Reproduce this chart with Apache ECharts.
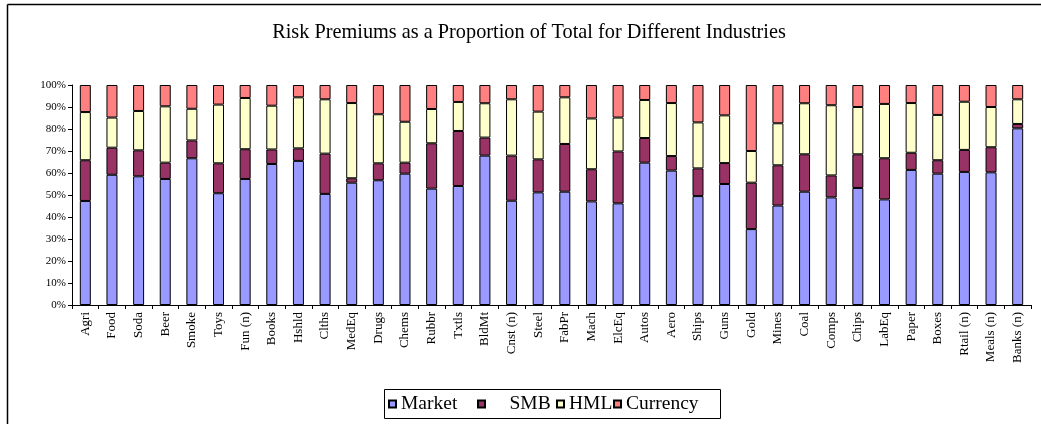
<!DOCTYPE html>
<html>
<head>
<meta charset="utf-8">
<script src="https://cdn.jsdelivr.net/npm/echarts@6/dist/echarts.min.js"></script>
<style>
html,body{margin:0;padding:0;background:#fff;}
#c{width:1041px;height:424px;}
</style>
</head>
<body>
<div id="c"></div>
<script>
const categories = ['Agri','Food','Soda','Beer','Smoke','Toys','Fun (n)','Books','Hshld','Clths','MedEq','Drugs','Chems','Rubbr','Txtls','BldMt','Cnst (n)','Steel','FabPr','Mach','ElcEq','Autos','Aero','Ships','Guns','Gold','Mines','Coal','Comps','Chips','LabEq','Paper','Boxes','Rtail (n)','Meals (n)','Banks (n)'];
const market   = [47.3,59.2,58.5,57.3,66.7,50.8,57.3,64.1,65.5,50.5,55.6,56.7,59.7,52.9,54.1,67.9,47.4,51.2,51.5,47.1,46.2,64.7,61.1,49.5,55.0,34.5,45.2,51.5,48.9,53.2,48.0,61.4,59.7,60.5,60.3,80.3];
const smb      = [18.5,12.3,11.8,7.4,8.1,13.6,13.5,6.6,5.7,18.3,2.0,7.7,5.0,20.6,25.0,8.2,20.5,15.0,21.7,14.6,23.6,11.2,6.6,12.6,9.5,21.1,18.3,17.0,10.0,15.3,18.7,7.8,6.1,10.0,11.4,2.0];
const hml      = [21.9,13.7,17.9,25.6,14.4,26.7,23.3,19.9,23.2,24.7,34.2,22.3,18.6,15.6,13.2,15.6,25.6,21.7,21.2,23.1,15.4,17.3,24.1,20.9,21.7,14.4,19.1,23.2,31.9,21.5,24.7,22.6,20.6,21.9,18.3,11.2];
const currency = [12.3,14.8,11.8,9.7,10.8,8.9,5.9,9.4,5.6,6.5,8.2,13.3,16.7,10.9,7.7,8.3,6.5,12.1,5.6,15.2,14.8,6.8,8.2,17.0,13.8,30.0,17.4,8.3,9.2,10.0,8.6,8.2,13.6,7.6,10.0,6.5];
const seriesNames = ['Market','SMB','HML','Currency'];
const colors = ['#9999FF','#993366','#FFFFCC','#FF8080'];

const font = "'Liberation Serif','Times New Roman',serif";
const chart = echarts.init(document.getElementById('c'), null, {renderer:'canvas'});

const dataSets = [market, smb, hml, currency];
const series = seriesNames.map((n,i)=>({
  name:n, type:'bar', stack:'total', barWidth:11,
  data:dataSets[i],
  itemStyle:{color:colors[i], borderColor:'#000', borderWidth:1},
  emphasis:{disabled:true}
}));

const legendPos = [388, 477, 556, 613];
const legends = seriesNames.map((n,i)=>({
  data:[n], left:legendPos[i], top:394, icon:'rect', itemWidth:7, itemHeight:7,
  padding:0,
  formatter: n==='SMB' ? '    SMB' : '{name}',
  textStyle:{fontFamily:font, fontSize:19.5, color:'#000'},
  selectedMode:false
}));

chart.setOption({
  animation:false,
  backgroundColor:'#fff',
  color:colors,
  title:{
    text:'Risk Premiums as a Proportion of Total for Different Industries',
    left:524, top:18, textAlign:'center',
    textStyle:{fontFamily:font, fontSize:20.3, fontWeight:'normal', color:'#000'}
  },
  legend:legends,
  grid:{left:72, right:10, top:85, bottom:119},
  xAxis:{
    type:'category', data:categories,
    axisLine:{lineStyle:{color:'#000', width:1}},
    axisTick:{show:true, length:4, lineStyle:{color:'#000'}},
    axisLabel:{rotate:90, interval:0, margin:7, fontFamily:font, fontSize:13, color:'#000'}
  },
  yAxis:{
    type:'value', min:0, max:100, interval:10,
    axisLine:{show:true, lineStyle:{color:'#000', width:1}},
    axisTick:{show:true, length:4, lineStyle:{color:'#000'}},
    splitLine:{show:false},
    axisLabel:{formatter:'{value}%', margin:6, fontFamily:font, fontSize:11, color:'#000'}
  },
  graphic:[
    {type:'line', shape:{x1:7.5,y1:4.5,x2:1041,y2:4.5}, style:{stroke:'#000', lineWidth:1.5}},
    {type:'line', shape:{x1:7.5,y1:4.5,x2:7.5,y2:424}, style:{stroke:'#000', lineWidth:1.5}},
    {type:'rect', shape:{x:384.5,y:389.5,width:336,height:29}, style:{fill:'none', stroke:'#000', lineWidth:1}, z:-1}
  ],
  series:series
});
</script>
</body>
</html>
